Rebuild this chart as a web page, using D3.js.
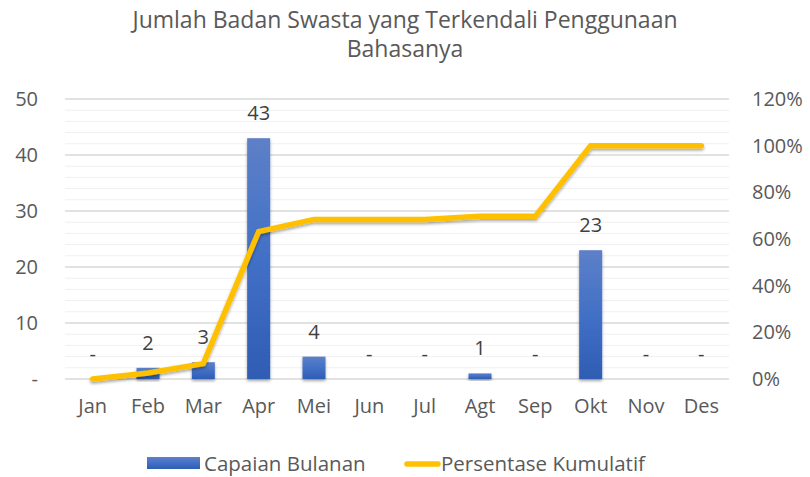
<!DOCTYPE html>
<html>
<head>
<meta charset="utf-8">
<script src="https://cdn.jsdelivr.net/npm/d3@7"></script>
<style>
  body { margin: 0; background: #fff; }
  text { font-family: "Open Sans", "Noto Sans", sans-serif; }
</style>
</head>
<body>
<div id="viz"></div>
<script>
// ── DATA ─────────────────────────────────────────────────────────────────────
const months = ["Jan", "Feb", "Mar", "Apr", "Mei", "Jun", "Jul", "Agt", "Sep", "Okt", "Nov", "Des"];
const monthly = [0, 2, 3, 43, 4, 0, 0, 1, 0, 23, 0, 0];
const cumulativePct = [0, 2.6, 6.6, 63.2, 68.4, 68.4, 68.4, 69.7, 69.7, 100, 100, 100];
const leftTicks = [0, 10, 20, 30, 40, 50];
const rightTicks = [0, 20, 40, 60, 80, 100, 120];
const titleLines = ["Jumlah Badan Swasta yang Terkendali Penggunaan", "Bahasanya"];
const legendLabels = ["Capaian Bulanan", "Persentase Kumulatif"];

// ── SETTINGS ─────────────────────────────────────────────────────────────────
const width = 810, height = 477;
const margin = { top: 99, right: 81, bottom: 98, left: 65 };
const fontSize = 20;
const svg = d3.select("#viz").append("svg")
    .attr("viewBox", [0, 0, width, height])
    .attr("width", width)
    .attr("height", height);

const defs = svg.append("defs");
const grad = defs.append("linearGradient")
    .attr("id", "barGrad").attr("x1", 0).attr("y1", 0).attr("x2", 0).attr("y2", 1);
grad.append("stop").attr("offset", "0%").attr("stop-color", "#5d80c8");
grad.append("stop").attr("offset", "50%").attr("stop-color", "#4270c6");
grad.append("stop").attr("offset", "100%").attr("stop-color", "#2f5db4");

const shadow = defs.append("filter").attr("id", "shadow")
    .attr("x", "-20%").attr("y", "-20%").attr("width", "140%").attr("height", "140%");
shadow.append("feDropShadow")
    .attr("dx", 0).attr("dy", 2).attr("stdDeviation", 1.6)
    .attr("flood-color", "#000").attr("flood-opacity", 0.35);

const x = d3.scaleBand()
    .domain(months)
    .range([margin.left, width - margin.right]);

const yL = d3.scaleLinear().domain([0, 50]).range([height - margin.bottom, margin.top]);
const yR = d3.scaleLinear().domain([0, 120]).range([height - margin.bottom, margin.top]);

// ── GRID ─────────────────────────────────────────────────────────────────────
svg.append("g")
  .selectAll("line")
  .data(d3.range(0, 51, 2).filter(v => v % 10 !== 0))
  .join("line")
    .attr("x1", margin.left).attr("x2", width - margin.right)
    .attr("y1", d => yL(d)).attr("y2", d => yL(d))
    .attr("stroke", "#f0f0f0").attr("stroke-width", 1);

svg.append("g")
  .selectAll("line")
  .data(leftTicks)
  .join("line")
    .attr("x1", margin.left).attr("x2", width - margin.right)
    .attr("y1", d => yL(d)).attr("y2", d => yL(d))
    .attr("stroke", "#d9d9d9").attr("stroke-width", 1.3);

// ── AXES ─────────────────────────────────────────────────────────────────────
const axisColor = "#595959";
function styleAxis(g) {
  g.select(".domain").remove();
  g.selectAll("text")
      .attr("font-size", fontSize).attr("fill", axisColor)
      .style("font-family", '"Open Sans", sans-serif');
}

svg.append("g")
    .attr("transform", `translate(${margin.left - 27},0)`)
    .call(d3.axisLeft(yL).tickValues(leftTicks).tickSize(0).tickPadding(0)
      .tickFormat(d => d === 0 ? "-" : d))
    .call(styleAxis);

svg.append("g")
    .attr("transform", `translate(${width - margin.right + 23},0)`)
    .call(d3.axisRight(yR).tickValues(rightTicks).tickSize(0).tickPadding(0)
      .tickFormat(d => d + "%"))
    .call(styleAxis);

svg.append("g")
    .attr("transform", `translate(0,${height - margin.bottom + 20})`)
    .call(d3.axisBottom(x).tickSize(0).tickPadding(0))
    .call(styleAxis);

// ── BARS ─────────────────────────────────────────────────────────────────────
const barW = 23;
svg.append("g")
  .selectAll("rect")
  .data(months.map((m, i) => ({ m, v: monthly[i] })).filter(d => d.v > 0))
  .join("rect")
    .attr("x", d => x(d.m) + x.bandwidth() / 2 - barW / 2)
    .attr("y", d => yL(d.v))
    .attr("width", barW)
    .attr("height", d => yL(0) - yL(d.v))
    .attr("fill", "url(#barGrad)")
    .attr("filter", "url(#shadow)");

// ── LINE ─────────────────────────────────────────────────────────────────────
const line = d3.line()
    .x((d, i) => x(months[i]) + x.bandwidth() / 2)
    .y(d => yR(d));

svg.append("path")
    .datum(cumulativePct)
    .attr("d", line)
    .attr("fill", "none")
    .attr("stroke", "#ffc000")
    .attr("stroke-width", 5.5)
    .attr("stroke-linecap", "round")
    .attr("stroke-linejoin", "miter")
    .attr("filter", "url(#shadow)");

// ── DATA LABELS ──────────────────────────────────────────────────────────────
svg.append("g")
  .selectAll("text")
  .data(months.map((m, i) => ({ m, v: monthly[i] })))
  .join("text")
    .attr("x", d => x(d.m) + x.bandwidth() / 2)
    .attr("y", d => yL(d.v) - 18)
    .attr("text-anchor", "middle")
    .attr("font-size", fontSize)
    .attr("fill", "#404040")
    .text(d => d.v === 0 ? "-" : d.v);

// ── TITLE ────────────────────────────────────────────────────────────────────
svg.append("g")
  .selectAll("text")
  .data(titleLines)
  .join("text")
    .attr("x", width / 2)
    .attr("y", (d, i) => 28 + i * 29)
    .attr("text-anchor", "middle")
    .attr("font-size", 23)
    .attr("fill", "#595959")
    .text(d => d);

// ── LEGEND ───────────────────────────────────────────────────────────────────
const legend = svg.append("g");
legend.append("rect")
    .attr("x", 147).attr("y", 457).attr("width", 53).attr("height", 12)
    .attr("fill", "url(#barGrad)");
legend.append("text")
    .attr("x", 204).attr("y", 471)
    .attr("font-size", 20.5).attr("fill", "#595959")
    .text(legendLabels[0]);
legend.append("line")
    .attr("x1", 407).attr("x2", 438).attr("y1", 464).attr("y2", 464)
    .attr("stroke", "#ffc000").attr("stroke-width", 5.5)
    .attr("stroke-linecap", "round");
legend.append("text")
    .attr("x", 441).attr("y", 471)
    .attr("font-size", 20.5).attr("fill", "#595959")
    .text(legendLabels[1]);
</script>
</body>
</html>
